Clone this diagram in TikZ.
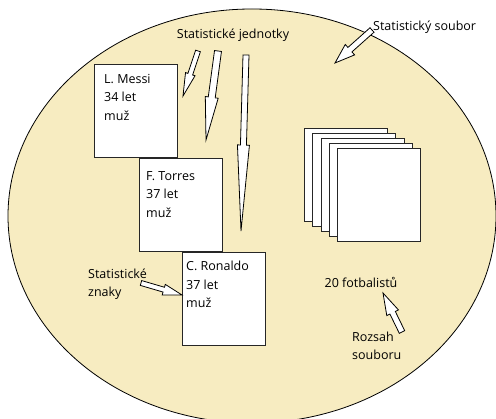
\documentclass[tikz,border=0pt]{standalone}
\usepackage{fontspec}
\setmainfont{Open Sans}
\usetikzlibrary{calc}
\usetikzlibrary{shapes.geometric}

\definecolor{sand}{RGB}{247,236,193}

% block arrow: from, to, half shaft, half head, head length
\newcommand{\blockarrow}[5]{%
  \path ($(#2)!#5!(#1)$) coordinate (hb);
  \draw[barrow] ($(#1)!#3!90:(#2)$) -- ($(hb)!#3!90:(#2)$)
    -- ($(hb)!#4!90:(#2)$) -- (#2) -- ($(hb)!#4!-90:(#2)$)
    -- ($(hb)!#3!-90:(#2)$) -- ($(#1)!#3!-90:(#2)$) -- cycle;
}

\begin{document}
\begin{tikzpicture}[x=1pt,y=-1pt,
    font=\fontsize{12.5}{18.5}\selectfont,
    card/.style={draw=black!85,fill=white,line width=1.2pt,
      minimum width=83pt,minimum height=93pt,anchor=north west,inner sep=0pt},
    cardtext/.style={anchor=north west,align=left,inner sep=0pt},
    note/.style={align=left,inner sep=0pt},
    barrow/.style={draw=black,fill=white,line width=0.8pt}]

    \useasboundingbox (0,0) rectangle (496,419);

    % soubor
    \node[ellipse,draw=black,fill=sand,line width=0.8pt,inner sep=0pt,
      minimum width=488pt,minimum height=414pt] (soubor) at (252,216) {};

    % hraci
    \node[card] (messi) at (94,64) {};
    \node[card] (torres) at (139,158) {};
    \node[card] (ronaldo) at (182,252) {};
    \node[cardtext] (messitext) at ([shift={(10,10)}]messi.north west) {L. Messi\\34 let\\muž};
    \node[cardtext] (torrestext) at ([shift={(7,13)}]torres.north west) {F. Torres\\37 let\\muž};
    \node[cardtext] (ronaldotext) at ([shift={(4,9)}]ronaldo.north west) {C. Ronaldo\\37 let\\muž};

    % balik listu
    \foreach \i in {0,...,4}
      \node[card] (list\i) at ({304+8.25*\i},{128+5*\i}) {};

    % popisky
    \node (jednotky) at (233,35) {Statistické jednotky};
    \node[anchor=west,inner sep=0pt] (souborlabel) at (373,27) {Statistický soubor};
    \node[note,anchor=west] (znaky) at (88,284) {Statistické\\znaky};
    \node (pocet) at (361,282) {20 fotbalistů};
    \node[note,anchor=west] (rozsah) at (352,346) {Rozsah\\souboru};

    % sipky
    \coordinate (j1a) at (198,51);  \coordinate (j1b) at (183,96);
    \coordinate (j2a) at (218,51);  \coordinate (j2b) at (206,140);
    \coordinate (j3a) at (246,55);  \coordinate (j3b) at (241,231);
    \coordinate (sa) at (372,30);   \coordinate (sb) at (335,63);
    \coordinate (za) at (141,283);  \coordinate (zb) at (182,295);
    \coordinate (ra) at (402,332);  \coordinate (rb) at (383,293);

    \blockarrow{j1a}{j1b}{2.5pt}{5pt}{23pt}
    \blockarrow{j2a}{j2b}{3.5pt}{6.5pt}{43pt}
    \blockarrow{j3a}{j3b}{3pt}{6pt}{86pt}
    \blockarrow{sa}{sb}{3pt}{7pt}{20pt}
    \blockarrow{za}{zb}{2.5pt}{5.5pt}{19pt}
    \blockarrow{ra}{rb}{3pt}{6.5pt}{22pt}
\end{tikzpicture}
\end{document}
